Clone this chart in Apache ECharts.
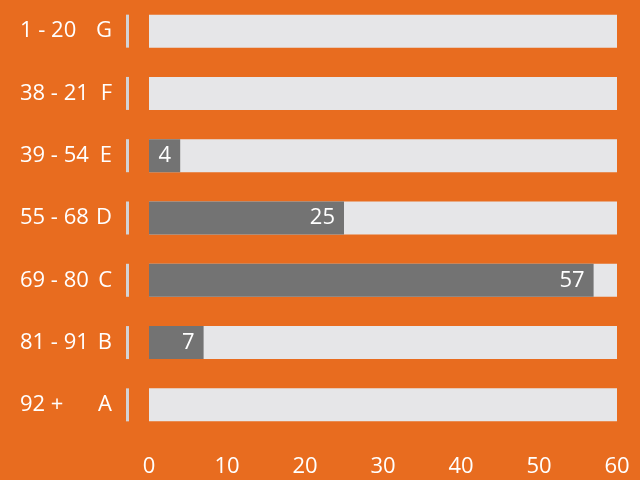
<!DOCTYPE html>
<html>
<head>
<meta charset="utf-8">
<script src="https://cdn.jsdelivr.net/npm/echarts@6/dist/echarts.min.js"></script>
<style>
  html, body { margin: 0; padding: 0; background: #e86c1f; }
  #chart { width: 640px; height: 480px; }
</style>
</head>
<body>
<div id="chart"></div>
<script>
// categories listed bottom -> top
const ranges = ['92 +', '81 - 91', '69 - 80', '55 - 68', '39 - 54', '38 - 21', '1 - 20']
const grades = ['A', 'B', 'C', 'D', 'E', 'F', 'G']
const counts = [0, 7, 57, 25, 4, 0, 0]
const xTicks = [0, 10, 20, 30, 40, 50, 60]

const font = 'Open Sans'
let chart = echarts.init(document.getElementById('chart'))

let options = {
  backgroundColor: '#e86c1f',
  animation: false,
  grid: { left: 149, right: 23, top: -3, bottom: 44 },
  xAxis: {
    type: 'value',
    min: xTicks[0],
    max: xTicks[xTicks.length - 1],
    interval: 10,
    axisLine: { show: false },
    axisTick: { show: false },
    splitLine: { show: false },
    axisLabel: {
      color: '#fff',
      fontFamily: font,
      fontSize: 22,
      margin: 20
    }
  },
  yAxis: {
    type: 'category',
    data: grades,
    axisLine: { show: false },
    axisTick: { show: false },
    axisLabel: {
      margin: 20,
      formatter: function (value, idx) {
        return '{r|' + ranges[idx] + '}{g|' + value + '}{gap|}{sep| }'
      },
      rich: {
        r: { width: 78, align: 'left', color: '#fff', fontFamily: font, fontSize: 22 },
        g: { width: 14, align: 'right', color: '#fff', fontFamily: font, fontSize: 22 },
        gap: { width: 14 },
        sep: { width: 3, height: 33, backgroundColor: '#d3d3d6' }
      }
    }
  },
  series: [
    {
      type: 'bar',
      data: counts,
      barWidth: 33,
      itemStyle: { color: '#737373' },
      showBackground: true,
      backgroundStyle: { color: '#e6e6e8' },
      label: {
        show: true,
        position: 'insideRight',
        distance: 9,
        color: '#fff',
        fontFamily: font,
        fontSize: 22,
        formatter: function (p) {
          return p.value ? p.value : ''
        }
      }
    }
  ]
}
chart.setOption(options)
</script>
</body>
</html>
